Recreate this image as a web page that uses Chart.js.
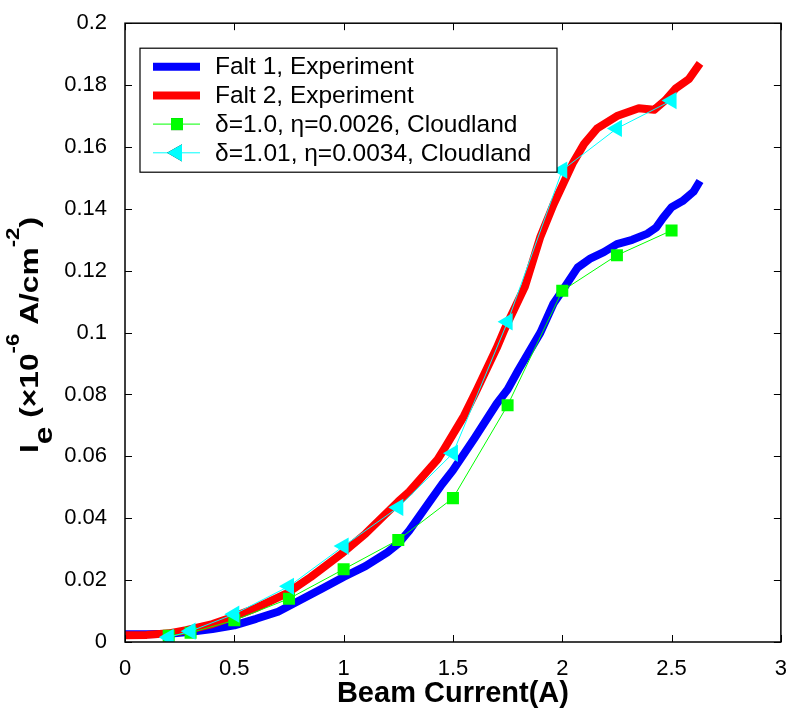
<!DOCTYPE html>
<html>
<head>
<meta charset="utf-8">
<script src="https://cdn.jsdelivr.net/npm/chart.js@4.4.1/dist/chart.umd.min.js"></script>
<style>
  html, body { margin: 0; padding: 0; background: #fff; }
  #wrap { width: 793px; height: 711px; }
</style>
</head>
<body>
<div id="wrap"><canvas id="beam"></canvas></div>
<script>
// axis ticks
var xTickLabels = ['0', '0.5', '1', '1.5', '2', '2.5', '3'];
var yTickLabels = ['0', '0.02', '0.04', '0.06', '0.08', '0.1', '0.12', '0.14', '0.16', '0.18', '0.2'];

// Falt 1, Experiment (blue)
var falt1X = [0, 0.1, 0.2, 0.3, 0.4, 0.5, 0.6, 0.7, 0.8, 0.9, 1.0, 1.1, 1.2, 1.25, 1.3, 1.35, 1.4, 1.45, 1.5, 1.6, 1.7, 1.75, 1.8, 1.9, 1.96, 2.0, 2.07, 2.13, 2.19, 2.25, 2.32, 2.39, 2.43, 2.46, 2.5, 2.55, 2.6, 2.63];
var falt1Y = [0.0025, 0.0025, 0.0027, 0.0033, 0.0042, 0.0054, 0.0075, 0.0098, 0.0135, 0.0172, 0.021, 0.0245, 0.029, 0.0318, 0.036, 0.041, 0.046, 0.051, 0.0555, 0.066, 0.077, 0.0816, 0.088, 0.1, 0.1094, 0.1135, 0.121, 0.124, 0.126, 0.1286, 0.130, 0.132, 0.134, 0.137, 0.1405, 0.1425, 0.1455, 0.149];

// Falt 2, Experiment (red)
var falt2X = [0, 0.1, 0.2, 0.28, 0.4, 0.49, 0.6, 0.74, 0.85, 0.99, 1.1, 1.25, 1.3, 1.43, 1.46, 1.55, 1.61, 1.7, 1.736, 1.83, 1.9, 1.96, 2.05, 2.1, 2.16, 2.25, 2.35, 2.42, 2.47, 2.52, 2.58, 2.63];
var falt2Y = [0.0022, 0.0023, 0.0028, 0.0038, 0.0058, 0.008, 0.011, 0.0157, 0.021, 0.0285, 0.035, 0.0454, 0.0486, 0.059, 0.0624, 0.073, 0.0816, 0.095, 0.101, 0.115, 0.131, 0.1414, 0.155, 0.161, 0.166, 0.170, 0.1725, 0.172, 0.175, 0.179, 0.182, 0.187];

// Cloudland simulations
var simX = [0.2, 0.3, 0.5, 0.75, 1.0, 1.25, 1.5, 1.75, 2.0, 2.25, 2.5];
var sim1Y = [0.002, 0.003, 0.007, 0.014, 0.0235, 0.033, 0.0465, 0.0765, 0.1135, 0.125, 0.133];
var sim2Y = [0.0015, 0.0035, 0.009, 0.018, 0.031, 0.0435, 0.061, 0.1035, 0.1525, 0.166, 0.175];

function pairs(xs, ys) {
    return xs.map(function (x, i) { return { x: x, y: ys[i] }; });
}

// box, inside tick marks, legend and y title
var matlabLook = {
    id: 'matlabLook',
    afterDraw: function (chart) {
        var ctx = chart.ctx;
        var a = chart.chartArea;
        var xs = chart.scales.x, ys = chart.scales.y;
        ctx.save();
        ctx.strokeStyle = '#000';
        ctx.lineWidth = 1.5;
        ctx.strokeRect(a.left, a.top, a.right - a.left, a.bottom - a.top);
        ctx.lineWidth = 1;
        ctx.beginPath();
        xs.ticks.forEach(function (t) {
            var px = Math.round(xs.getPixelForValue(t.value)) + 0.5;
            ctx.moveTo(px, a.bottom); ctx.lineTo(px, a.bottom - 7);
            ctx.moveTo(px, a.top); ctx.lineTo(px, a.top + 7);
        });
        ys.ticks.forEach(function (t) {
            var py = Math.round(ys.getPixelForValue(t.value)) + 0.5;
            ctx.moveTo(a.left, py); ctx.lineTo(a.left + 7, py);
            ctx.moveTo(a.right, py); ctx.lineTo(a.right - 7, py);
        });
        ctx.stroke();

        // legend
        var bx = a.left + 15, by = a.top + 25, bw = 417, bh = 124;
        ctx.fillStyle = '#fff';
        ctx.fillRect(bx, by, bw, bh);
        ctx.lineWidth = 1.2;
        ctx.strokeStyle = '#000';
        ctx.strokeRect(bx, by, bw, bh);
        ctx.font = '24.5px "Liberation Sans", Arial, sans-serif';
        ctx.textBaseline = 'middle';
        chart.data.datasets.forEach(function (ds, i) {
            var ry = by + 18.5 + i * 28.7;
            ctx.strokeStyle = ds.borderColor;
            ctx.lineWidth = ds.borderWidth;
            ctx.beginPath();
            ctx.moveTo(bx + 13, ry); ctx.lineTo(bx + 60, ry);
            ctx.stroke();
            if (ds.pointRadius > 0) {
                Chart.helpers.drawPoint(ctx, {
                    pointStyle: ds.pointStyle, rotation: ds.rotation || 0,
                    radius: ds.pointRadius, borderWidth: 0
                }, bx + 37, ry);
                ctx.fillStyle = ds.pointBackgroundColor;
                ctx.fill();
            }
            ctx.fillStyle = '#000';
            ctx.fillText(ds.label, bx + 75, ry + 1);
        });

        // y axis title with sub/superscripts
        var parts = [
            { t: 'I', f: 30, dy: 0 },
            { t: 'e', f: 30, dy: 14 },
            { t: ' (\u00d710', f: 30, dy: 0 },
            { t: '-6', f: 21, dy: -19 },
            { t: ' A/cm', f: 30, dy: 0 },
            { t: '-2', f: 21, dy: -19 },
            { t: ')', f: 30, dy: 0 }
        ];
        var total = 0;
        parts.forEach(function (p) {
            ctx.font = 'bold ' + p.f + 'px "Liberation Sans", Arial, sans-serif';
            p.w = ctx.measureText(p.t).width;
            total += p.w;
        });
        var sx = 236 / total;
        ctx.translate(38, 335);
        ctx.rotate(-Math.PI / 2);
        ctx.scale(sx, 0.85);
        ctx.textBaseline = 'alphabetic';
        ctx.textAlign = 'left';
        ctx.fillStyle = '#000';
        var cx = -total / 2;
        parts.forEach(function (p) {
            ctx.font = 'bold ' + p.f + 'px "Liberation Sans", Arial, sans-serif';
            ctx.fillText(p.t, cx, p.dy / 0.85);
            cx += p.w;
        });
        ctx.restore();
    }
};

var ctx = document.getElementById('beam').getContext('2d');
var chart = new Chart(ctx, {
    type: 'line',
    data: {
        datasets: [{
            label: 'Falt 1, Experiment',
            data: pairs(falt1X, falt1Y),
            borderColor: '#0000ff',
            backgroundColor: '#0000ff',
            borderWidth: 8,
            pointRadius: 0,
            borderJoinStyle: 'round',
            fill: false,
            order: 4
        }, {
            label: 'Falt 2, Experiment',
            data: pairs(falt2X, falt2Y),
            borderColor: '#ff0000',
            backgroundColor: '#ff0000',
            borderWidth: 8,
            pointRadius: 0,
            borderJoinStyle: 'round',
            fill: false,
            order: 3
        }, {
            label: '\u03b4=1.0, \u03b7=0.0026, Cloudland',
            data: pairs(simX, sim1Y),
            borderColor: '#00ff00',
            backgroundColor: '#00ff00',
            pointBackgroundColor: '#00ff00',
            borderWidth: 1,
            pointStyle: 'rect',
            pointRadius: 8.5,
            pointBorderWidth: 0,
            fill: false,
            order: 2
        }, {
            label: '\u03b4=1.01, \u03b7=0.0034, Cloudland',
            data: pairs(simX, sim2Y),
            borderColor: '#00ffff',
            backgroundColor: '#00ffff',
            pointBackgroundColor: '#00ffff',
            borderWidth: 1,
            pointStyle: 'triangle',
            rotation: -90,
            pointRadius: 10,
            pointBorderWidth: 0,
            fill: false,
            order: 1
        }]
    },
    options: {
        responsive: true,
        maintainAspectRatio: false,
        animation: false,
        layout: { padding: { left: 0, right: 8, top: 17, bottom: 0 } },
        plugins: { legend: { display: false }, tooltip: { enabled: false } },
        scales: {
            x: {
                type: 'linear',
                min: 0, max: 3,
                ticks: {
                    stepSize: 0.5,
                    color: '#000',
                    padding: 6,
                    maxRotation: 0,
                    font: { family: '"Liberation Sans", Arial, sans-serif', size: 22 },
                    callback: function (v, i) { return xTickLabels[i]; }
                },
                grid: { display: false },
                border: { display: false },
                title: {
                    display: true,
                    text: 'Beam Current(A)',
                    color: '#000',
                    padding: { top: 0, bottom: 0 },
                    font: { family: '"Liberation Sans", Arial, sans-serif', size: 29, weight: 'bold' }
                },
                afterFit: function (s) { s.height = 69; }
            },
            y: {
                min: 0, max: 0.2,
                ticks: {
                    stepSize: 0.02,
                    color: '#000',
                    padding: 10,
                    font: { family: '"Liberation Sans", Arial, sans-serif', size: 22 },
                    callback: function (v, i) { return yTickLabels[i]; }
                },
                grid: { display: false },
                border: { display: false },
                afterFit: function (s) { s.width = 125; }
            }
        }
    },
    plugins: [matlabLook]
});
</script>
</body>
</html>
